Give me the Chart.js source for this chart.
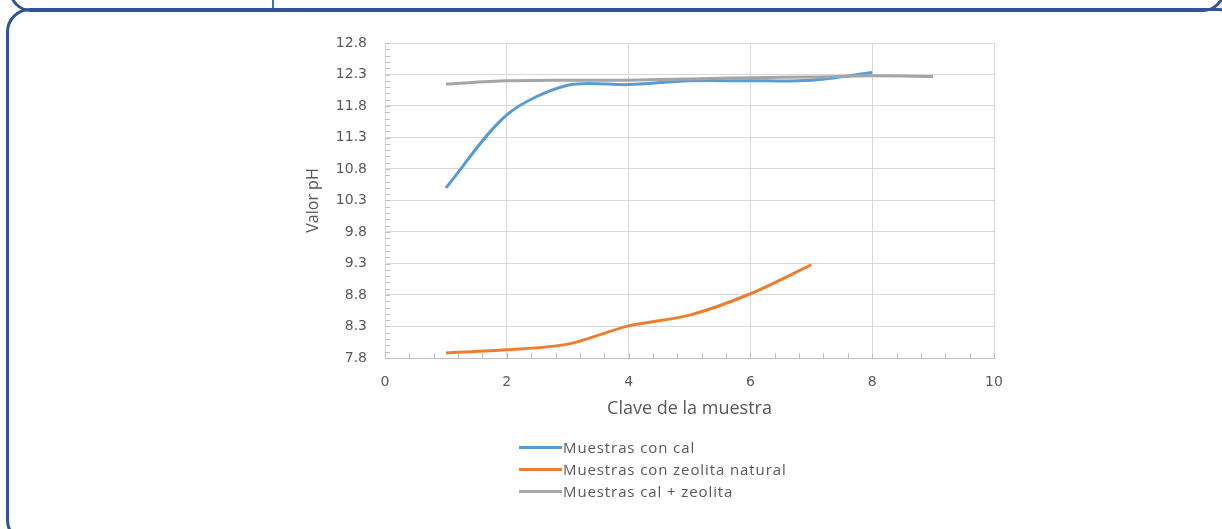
<!DOCTYPE html>
<html>
<head>
<meta charset="utf-8">
<script src="https://cdn.jsdelivr.net/npm/chart.js@4/dist/chart.umd.min.js"></script>
<style>
  html, body { margin: 0; padding: 0; background: #fff; }
  body { width: 1222px; height: 529px; position: relative; overflow: hidden; font-family: "Open Sans", sans-serif; }
  .box-top { position: absolute; left: 9px; top: -60px; width: 1210px; height: 66px; border: 3px solid #2f5597; border-radius: 22px; }
  .divider { position: absolute; left: 272px; top: 0; width: 2px; height: 8px; background: #4a6fb0; }
  .box-main { position: absolute; left: 6px; top: 8px; width: 1230px; height: 530px; border: 3px solid #2f5597; border-radius: 24px; }
  #wrap { position: absolute; left: 0; top: 0; width: 1222px; height: 529px; }
  #legend { position: absolute; left: 519px; top: 436px; font-size: 15px; letter-spacing: 0.9px; color: #595959; }
  .item { display: flex; align-items: center; height: 22px; }
  .swatch { width: 43px; height: 3px; margin-right: 1px; }
</style>
</head>
<body>
<div class="box-top"></div>
<div class="divider"></div>
<div class="box-main"></div>
<div id="wrap"><canvas id="chart"></canvas></div>
<div id="legend"></div>
<script>
// valores
const muestras = [1, 2, 3, 4, 5, 6, 7, 8, 9];
const phCal = [10.50, 11.66, 12.13, 12.14, 12.20, 12.20, 12.21, 12.33];
const phZeolita = [7.88, 7.93, 8.02, 8.31, 8.48, 8.82, 9.28];
const phCalZeolita = [12.15, 12.20, 12.21, 12.21, 12.23, 12.25, 12.26, 12.28, 12.27];
const serieNombres = ['Muestras con cal', 'Muestras con zeolita natural', 'Muestras cal + zeolita'];
const serieColores = ['#5b9bd5', '#ed7d31', '#a5a5a5'];
const xTicks = [0, 2, 4, 6, 8, 10];
const yTicks = [7.8, 8.3, 8.8, 9.3, 9.8, 10.3, 10.8, 11.3, 11.8, 12.3, 12.8];

function puntos(valores) {
    return valores.map(function(v, i) { return { x: muestras[i], y: v }; });
}

// marcas menores dentro del area (como en Excel)
const minorTicks = {
    id: 'minorTicks',
    afterDatasetsDraw: function(chart) {
        var ctx = chart.ctx;
        var xs = chart.scales.x, ys = chart.scales.y;
        var area = chart.chartArea;
        ctx.save();
        ctx.strokeStyle = '#bfbfbf';
        ctx.lineWidth = 1;
        ctx.beginPath();
        for (var i = 0; i <= 25; i++) {
            var px = Math.round(xs.getPixelForValue(i * 0.4)) + 0.5;
            ctx.moveTo(px, area.bottom);
            ctx.lineTo(px, area.bottom - 5);
        }
        for (var j = 0; j <= 50; j++) {
            var py = Math.round(ys.getPixelForValue(7.8 + j * 0.1)) + 0.5;
            ctx.moveTo(area.left, py);
            ctx.lineTo(area.left + 5, py);
        }
        ctx.stroke();
        ctx.restore();
    }
};

const series = [phCal, phZeolita, phCalZeolita];
const chart = new Chart(document.getElementById('chart'), {
    type: 'line',
    data: {
        datasets: series.map(function(s, i) {
            return {
                label: serieNombres[i],
                data: puntos(s),
                borderColor: serieColores[i],
                backgroundColor: serieColores[i],
                borderWidth: 3,
                pointRadius: 0,
                tension: 0.3,
                order: i === 2 ? -1 : 0
            };
        })
    },
    options: {
        responsive: true,
        maintainAspectRatio: false,
        animation: false,
        layout: { padding: { left: 300, right: 228, top: 43, bottom: 101 } },
        plugins: { legend: { display: false }, tooltip: { enabled: false } },
        scales: {
            x: {
                type: 'linear',
                min: 0,
                max: 10,
                afterBuildTicks: function(scale) { scale.ticks = xTicks.map(function(v) { return { value: v }; }); },
                afterFit: function(scale) { scale.height = 70; },
                grid: { color: '#d9d9d9', drawTicks: false },
                border: { color: '#bfbfbf' },
                ticks: { padding: 16, color: '#595959', font: { family: 'DejaVu Sans', size: 14 } },
                title: { display: true, text: 'Clave de la muestra', color: '#595959', font: { family: 'Open Sans', size: 18 }, padding: { top: 4, bottom: 8 } }
            },
            y: {
                type: 'linear',
                min: 7.8,
                max: 12.8,
                afterBuildTicks: function(scale) { scale.ticks = yTicks.map(function(v) { return { value: v }; }); },
                afterFit: function(scale) { scale.width = 85; },
                grid: { color: '#d9d9d9', drawTicks: false },
                border: { color: '#d9d9d9' },
                ticks: { padding: 18, color: '#595959', font: { family: 'DejaVu Sans', size: 14 }, callback: function(v) { return Number(v).toFixed(1); } },
                title: { display: true, text: 'Valor pH', color: '#595959', font: { family: 'Open Sans', size: 16 }, padding: { top: 4, bottom: 4 } }
            }
        }
    },
    plugins: [minorTicks]
});

// leyenda vertical como en el original
var legend = document.getElementById('legend');
chart.data.datasets.forEach(function(ds) {
    var row = document.createElement('div');
    row.className = 'item';
    var sw = document.createElement('span');
    sw.className = 'swatch';
    sw.style.background = ds.borderColor;
    var txt = document.createElement('span');
    txt.textContent = ds.label;
    row.appendChild(sw);
    row.appendChild(txt);
    legend.appendChild(row);
});
</script>
</body>
</html>
